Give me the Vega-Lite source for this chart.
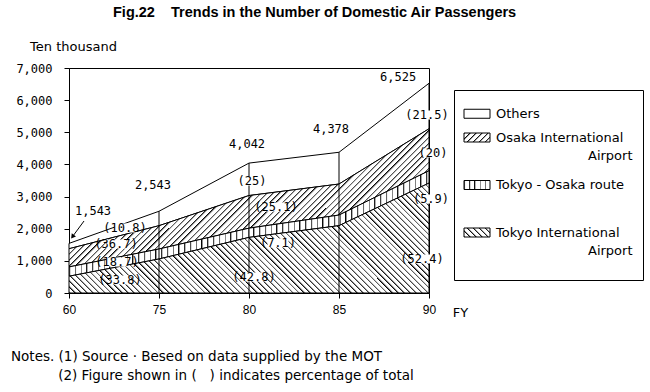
{
"$schema": "https://vega.github.io/schema/vega-lite/v6.json",
"padding": {"left": 10, "top": 5, "right": 5, "bottom": 5},
"background": "white",
"title": {"text": "Fig.22\u00a0\u00a0\u00a0 Trends in the Number of Domestic Air Passengers", "anchor": "start", "frame": "group", "dx": 44, "offset": 19, "font": "Liberation Sans", "fontSize": 14.5, "fontWeight": "bold", "color": "black"},
"bounds": "flush",
"spacing": 25,
"datasets": {
"pax": [
{"fy": "60", "series": "Tokyo International Airport", "value": 522},
{"fy": "60", "series": "Tokyo - Osaka route", "value": 289},
{"fy": "60", "series": "Osaka International Airport", "value": 566},
{"fy": "60", "series": "Others", "value": 166},
{"fy": "75", "series": "Tokyo International Airport", "value": 1058},
{"fy": "75", "series": "Tokyo - Osaka route", "value": 311},
{"fy": "75", "series": "Osaka International Airport", "value": 725},
{"fy": "75", "series": "Others", "value": 449},
{"fy": "80", "series": "Tokyo International Airport", "value": 1730},
{"fy": "80", "series": "Tokyo - Osaka route", "value": 287},
{"fy": "80", "series": "Osaka International Airport", "value": 1015},
{"fy": "80", "series": "Others", "value": 1010},
{"fy": "85", "series": "Tokyo International Airport", "value": 2095},
{"fy": "85", "series": "Tokyo - Osaka route", "value": 330},
{"fy": "85", "series": "Osaka International Airport", "value": 965},
{"fy": "85", "series": "Others", "value": 988},
{"fy": "90", "series": "Tokyo International Airport", "value": 3419},
{"fy": "90", "series": "Tokyo - Osaka route", "value": 385},
{"fy": "90", "series": "Osaka International Airport", "value": 1305},
{"fy": "90", "series": "Others", "value": 1416}
],
"totals": [{"fy": "75", "total": 2543}, {"fy": "80", "total": 4042}, {"fy": "85", "total": 4378}],
"pct": [
{"slot": 0.622, "val": 2022, "label": "(10.8)"},
{"slot": 0.522, "val": 1524, "label": "(36.7)"},
{"slot": 0.533, "val": 964, "label": "(18.7)"},
{"slot": 0.567, "val": 404, "label": "(33.8)"},
{"slot": 2.033, "val": 3484, "label": "(25)"},
{"slot": 2.3, "val": 2676, "label": "(25.1)"},
{"slot": 2.322, "val": 1556, "label": "(7.1)"},
{"slot": 2.056, "val": 498, "label": "(42.8)"},
{"slot": 3.978, "val": 5538, "label": "(21.5)"},
{"slot": 4.044, "val": 4356, "label": "(20)"},
{"slot": 4.022, "val": 2924, "label": "(5.9)"},
{"slot": 3.922, "val": 1058, "label": "(52.4)"}
],
"tlab": [
{"slot": 0.267, "val": 2551, "label": "1,543"},
{"slot": 0.933, "val": 3360, "label": "2,543"},
{"slot": 1.978, "val": 4636, "label": "4,042"},
{"slot": 2.911, "val": 5102, "label": "4,378"},
{"slot": 3.656, "val": 6720, "label": "6,525"}
],
"arrow": [{"slot": 0.167, "val": 2240, "slot2": 0.044, "val2": 1773}],
"arrowhead": [{"slot": 0.044, "val": 1773}],
"legend": [
{"series": "Others", "label": "Others", "sub": ""},
{"series": "Osaka International Airport", "label": "Osaka International", "sub": "Airport"},
{"series": "Tokyo - Osaka route", "label": "Tokyo - Osaka route", "sub": ""},
{"series": "Tokyo International Airport", "label": "Tokyo International", "sub": "Airport"}
]
},
"hconcat": [
{
"width": 360,
"height": 225,
"title": {"text": ["Notes. (1) Source \u00b7 Besed on data supplied by the MOT", "\u200b\u00a0\u00a0\u00a0\u00a0\u00a0\u00a0\u00a0\u00a0\u00a0\u00a0\u00a0(2) Figure shown in (\u00a0\u00a0\u00a0) indicates percentage of total"], "orient": "bottom", "anchor": "start", "frame": "group", "dx": -58, "offset": 31, "font": "DejaVu Sans", "fontSize": 13.5, "fontWeight": "normal", "lineHeight": 19, "color": "black"},
"encoding": {
"x": {"field": "slot", "type": "quantitative", "title": "FY", "scale": {"domain": [0, 4], "nice": false, "zero": false},
"axis": {"values": [0, 1, 2, 3, 4], "labelExpr": "['60','75','80','85','90'][datum.value]", "title": "FY", "titleX": 391, "titleY": 19, "titleAlign": "center", "titleBaseline": "middle", "titleFont": "DejaVu Sans", "titleFontSize": 13, "titleFontWeight": "normal", "labelFont": "Liberation Sans", "labelFontSize": 12, "labelPadding": 6, "tickSize": 5, "labelFlush": false, "labelOverlap": false, "grid": false}}
},
"layer": [
{
"data": {"name": "pax"},
"transform": [
{"calculate": "indexof(['60','75','80','85','90'], datum.fy)", "as": "slot"},
{"calculate": "indexof(['Tokyo International Airport','Tokyo - Osaka route','Osaka International Airport','Others'], datum.series)", "as": "rank"},
{"stack": "value", "groupby": ["slot"], "sort": [{"field": "rank", "order": "ascending"}], "as": ["v0", "v1"]}
],
"layer": [
{"transform": [{"filter": "datum.series === 'Others'"}],
"mark": {"type": "area", "fill": "white", "stroke": "black", "strokeWidth": 1, "opacity": 1},
"encoding": {"y": {"field": "v1", "type": "quantitative", "title": "Ten thousand", "scale": {"domain": [0, 7000], "nice": false},
"axis": {"values": [0, 1000, 2000, 3000, 4000, 5000, 6000, 7000], "tickCount": 8, "labelOverlap": false, "format": ",d", "title": "Ten thousand"}},
"y2": {"field": "v0"}}},
{"transform": [{"filter": "datum.series === 'Osaka International Airport'"}],
"mark": {"type": "area", "stroke": "black", "strokeWidth": 1, "opacity": 1, "fill": {"gradient": "linear", "x1": 0, "y1": 0, "x2": 1.206, "y2": 0.463, "stops": [
{"offset":0,"color":"#000"},{"offset":0.005,"color":"#fff"},{"offset":0.0125,"color":"#fff"},
{"offset":0.0125,"color":"#000"},{"offset":0.0175,"color":"#fff"},{"offset":0.025,"color":"#fff"},
{"offset":0.025,"color":"#000"},{"offset":0.03,"color":"#fff"},{"offset":0.0375,"color":"#fff"},
{"offset":0.0375,"color":"#000"},{"offset":0.0425,"color":"#fff"},{"offset":0.05,"color":"#fff"},
{"offset":0.05,"color":"#000"},{"offset":0.055,"color":"#fff"},{"offset":0.0625,"color":"#fff"},
{"offset":0.0625,"color":"#000"},{"offset":0.0675,"color":"#fff"},{"offset":0.075,"color":"#fff"},
{"offset":0.075,"color":"#000"},{"offset":0.08,"color":"#fff"},{"offset":0.0875,"color":"#fff"},
{"offset":0.0875,"color":"#000"},{"offset":0.0925,"color":"#fff"},{"offset":0.1,"color":"#fff"},
{"offset":0.1,"color":"#000"},{"offset":0.105,"color":"#fff"},{"offset":0.1125,"color":"#fff"},
{"offset":0.1125,"color":"#000"},{"offset":0.1175,"color":"#fff"},{"offset":0.125,"color":"#fff"},
{"offset":0.125,"color":"#000"},{"offset":0.13,"color":"#fff"},{"offset":0.1375,"color":"#fff"},
{"offset":0.1375,"color":"#000"},{"offset":0.1425,"color":"#fff"},{"offset":0.15,"color":"#fff"},
{"offset":0.15,"color":"#000"},{"offset":0.155,"color":"#fff"},{"offset":0.1625,"color":"#fff"},
{"offset":0.1625,"color":"#000"},{"offset":0.1675,"color":"#fff"},{"offset":0.175,"color":"#fff"},
{"offset":0.175,"color":"#000"},{"offset":0.18,"color":"#fff"},{"offset":0.1875,"color":"#fff"},
{"offset":0.1875,"color":"#000"},{"offset":0.1925,"color":"#fff"},{"offset":0.2,"color":"#fff"},
{"offset":0.2,"color":"#000"},{"offset":0.205,"color":"#fff"},{"offset":0.2125,"color":"#fff"},
{"offset":0.2125,"color":"#000"},{"offset":0.2175,"color":"#fff"},{"offset":0.225,"color":"#fff"},
{"offset":0.225,"color":"#000"},{"offset":0.23,"color":"#fff"},{"offset":0.2375,"color":"#fff"},
{"offset":0.2375,"color":"#000"},{"offset":0.2425,"color":"#fff"},{"offset":0.25,"color":"#fff"},
{"offset":0.25,"color":"#000"},{"offset":0.255,"color":"#fff"},{"offset":0.2625,"color":"#fff"},
{"offset":0.2625,"color":"#000"},{"offset":0.2675,"color":"#fff"},{"offset":0.275,"color":"#fff"},
{"offset":0.275,"color":"#000"},{"offset":0.28,"color":"#fff"},{"offset":0.2875,"color":"#fff"},
{"offset":0.2875,"color":"#000"},{"offset":0.2925,"color":"#fff"},{"offset":0.3,"color":"#fff"},
{"offset":0.3,"color":"#000"},{"offset":0.305,"color":"#fff"},{"offset":0.3125,"color":"#fff"},
{"offset":0.3125,"color":"#000"},{"offset":0.3175,"color":"#fff"},{"offset":0.325,"color":"#fff"},
{"offset":0.325,"color":"#000"},{"offset":0.33,"color":"#fff"},{"offset":0.3375,"color":"#fff"},
{"offset":0.3375,"color":"#000"},{"offset":0.3425,"color":"#fff"},{"offset":0.35,"color":"#fff"},
{"offset":0.35,"color":"#000"},{"offset":0.355,"color":"#fff"},{"offset":0.3625,"color":"#fff"},
{"offset":0.3625,"color":"#000"},{"offset":0.3675,"color":"#fff"},{"offset":0.375,"color":"#fff"},
{"offset":0.375,"color":"#000"},{"offset":0.38,"color":"#fff"},{"offset":0.3875,"color":"#fff"},
{"offset":0.3875,"color":"#000"},{"offset":0.3925,"color":"#fff"},{"offset":0.4,"color":"#fff"},
{"offset":0.4,"color":"#000"},{"offset":0.405,"color":"#fff"},{"offset":0.4125,"color":"#fff"},
{"offset":0.4125,"color":"#000"},{"offset":0.4175,"color":"#fff"},{"offset":0.425,"color":"#fff"},
{"offset":0.425,"color":"#000"},{"offset":0.43,"color":"#fff"},{"offset":0.4375,"color":"#fff"},
{"offset":0.4375,"color":"#000"},{"offset":0.4425,"color":"#fff"},{"offset":0.45,"color":"#fff"},
{"offset":0.45,"color":"#000"},{"offset":0.455,"color":"#fff"},{"offset":0.4625,"color":"#fff"},
{"offset":0.4625,"color":"#000"},{"offset":0.4675,"color":"#fff"},{"offset":0.475,"color":"#fff"},
{"offset":0.475,"color":"#000"},{"offset":0.48,"color":"#fff"},{"offset":0.4875,"color":"#fff"},
{"offset":0.4875,"color":"#000"},{"offset":0.4925,"color":"#fff"},{"offset":0.5,"color":"#fff"},
{"offset":0.5,"color":"#000"},{"offset":0.505,"color":"#fff"},{"offset":0.5125,"color":"#fff"},
{"offset":0.5125,"color":"#000"},{"offset":0.5175,"color":"#fff"},{"offset":0.525,"color":"#fff"},
{"offset":0.525,"color":"#000"},{"offset":0.53,"color":"#fff"},{"offset":0.5375,"color":"#fff"},
{"offset":0.5375,"color":"#000"},{"offset":0.5425,"color":"#fff"},{"offset":0.55,"color":"#fff"},
{"offset":0.55,"color":"#000"},{"offset":0.555,"color":"#fff"},{"offset":0.5625,"color":"#fff"},
{"offset":0.5625,"color":"#000"},{"offset":0.5675,"color":"#fff"},{"offset":0.575,"color":"#fff"},
{"offset":0.575,"color":"#000"},{"offset":0.58,"color":"#fff"},{"offset":0.5875,"color":"#fff"},
{"offset":0.5875,"color":"#000"},{"offset":0.5925,"color":"#fff"},{"offset":0.6,"color":"#fff"},
{"offset":0.6,"color":"#000"},{"offset":0.605,"color":"#fff"},{"offset":0.6125,"color":"#fff"},
{"offset":0.6125,"color":"#000"},{"offset":0.6175,"color":"#fff"},{"offset":0.625,"color":"#fff"},
{"offset":0.625,"color":"#000"},{"offset":0.63,"color":"#fff"},{"offset":0.6375,"color":"#fff"},
{"offset":0.6375,"color":"#000"},{"offset":0.6425,"color":"#fff"},{"offset":0.65,"color":"#fff"},
{"offset":0.65,"color":"#000"},{"offset":0.655,"color":"#fff"},{"offset":0.6625,"color":"#fff"},
{"offset":0.6625,"color":"#000"},{"offset":0.6675,"color":"#fff"},{"offset":0.675,"color":"#fff"},
{"offset":0.675,"color":"#000"},{"offset":0.68,"color":"#fff"},{"offset":0.6875,"color":"#fff"},
{"offset":0.6875,"color":"#000"},{"offset":0.6925,"color":"#fff"},{"offset":0.7,"color":"#fff"},
{"offset":0.7,"color":"#000"},{"offset":0.705,"color":"#fff"},{"offset":0.7125,"color":"#fff"},
{"offset":0.7125,"color":"#000"},{"offset":0.7175,"color":"#fff"},{"offset":0.725,"color":"#fff"},
{"offset":0.725,"color":"#000"},{"offset":0.73,"color":"#fff"},{"offset":0.7375,"color":"#fff"},
{"offset":0.7375,"color":"#000"},{"offset":0.7425,"color":"#fff"},{"offset":0.75,"color":"#fff"},
{"offset":0.75,"color":"#000"},{"offset":0.755,"color":"#fff"},{"offset":0.7625,"color":"#fff"},
{"offset":0.7625,"color":"#000"},{"offset":0.7675,"color":"#fff"},{"offset":0.775,"color":"#fff"},
{"offset":0.775,"color":"#000"},{"offset":0.78,"color":"#fff"},{"offset":0.7875,"color":"#fff"},
{"offset":0.7875,"color":"#000"},{"offset":0.7925,"color":"#fff"},{"offset":0.8,"color":"#fff"},
{"offset":0.8,"color":"#000"},{"offset":0.805,"color":"#fff"},{"offset":0.8125,"color":"#fff"},
{"offset":0.8125,"color":"#000"},{"offset":0.8175,"color":"#fff"},{"offset":0.825,"color":"#fff"},
{"offset":0.825,"color":"#000"},{"offset":0.83,"color":"#fff"},{"offset":0.8375,"color":"#fff"},
{"offset":0.8375,"color":"#000"},{"offset":0.8425,"color":"#fff"},{"offset":0.85,"color":"#fff"},
{"offset":0.85,"color":"#000"},{"offset":0.855,"color":"#fff"},{"offset":0.8625,"color":"#fff"},
{"offset":0.8625,"color":"#000"},{"offset":0.8675,"color":"#fff"},{"offset":0.875,"color":"#fff"},
{"offset":0.875,"color":"#000"},{"offset":0.88,"color":"#fff"},{"offset":0.8875,"color":"#fff"},
{"offset":0.8875,"color":"#000"},{"offset":0.8925,"color":"#fff"},{"offset":0.9,"color":"#fff"},
{"offset":0.9,"color":"#000"},{"offset":0.905,"color":"#fff"},{"offset":0.9125,"color":"#fff"},
{"offset":0.9125,"color":"#000"},{"offset":0.9175,"color":"#fff"},{"offset":0.925,"color":"#fff"},
{"offset":0.925,"color":"#000"},{"offset":0.93,"color":"#fff"},{"offset":0.9375,"color":"#fff"},
{"offset":0.9375,"color":"#000"},{"offset":0.9425,"color":"#fff"},{"offset":0.95,"color":"#fff"},
{"offset":0.95,"color":"#000"},{"offset":0.955,"color":"#fff"},{"offset":0.9625,"color":"#fff"},
{"offset":0.9625,"color":"#000"},{"offset":0.9675,"color":"#fff"},{"offset":0.975,"color":"#fff"},
{"offset":0.975,"color":"#000"},{"offset":0.98,"color":"#fff"},{"offset":0.9875,"color":"#fff"},
{"offset":0.9875,"color":"#000"},{"offset":0.9925,"color":"#fff"},{"offset":1,"color":"#fff"}
]}},
"encoding": {"y": {"field": "v1", "type": "quantitative", "title": "Ten thousand", "scale": {"domain": [0, 7000], "nice": false}, "axis": {"values": [0, 1000, 2000, 3000, 4000, 5000, 6000, 7000], "tickCount": 8, "labelOverlap": false, "format": ",d", "title": "Ten thousand"}}, "y2": {"field": "v0"}}},
{"transform": [{"filter": "datum.series === 'Tokyo - Osaka route'"}],
"mark": {"type": "area", "stroke": "black", "strokeWidth": 1, "opacity": 1, "fill": {"gradient": "linear", "x1": 0, "y1": 0, "x2": 1, "y2": 0, "stops": [
{"offset":0,"color":"#000"},{"offset":0.005,"color":"#fff"},{"offset":0.016,"color":"#fff"},
{"offset":0.016,"color":"#000"},{"offset":0.021,"color":"#fff"},{"offset":0.032,"color":"#fff"},
{"offset":0.032,"color":"#000"},{"offset":0.037,"color":"#fff"},{"offset":0.048,"color":"#fff"},
{"offset":0.048,"color":"#000"},{"offset":0.053,"color":"#fff"},{"offset":0.064,"color":"#fff"},
{"offset":0.064,"color":"#000"},{"offset":0.069,"color":"#fff"},{"offset":0.08,"color":"#fff"},
{"offset":0.08,"color":"#000"},{"offset":0.085,"color":"#fff"},{"offset":0.096,"color":"#fff"},
{"offset":0.096,"color":"#000"},{"offset":0.101,"color":"#fff"},{"offset":0.112,"color":"#fff"},
{"offset":0.112,"color":"#000"},{"offset":0.117,"color":"#fff"},{"offset":0.128,"color":"#fff"},
{"offset":0.128,"color":"#000"},{"offset":0.133,"color":"#fff"},{"offset":0.144,"color":"#fff"},
{"offset":0.144,"color":"#000"},{"offset":0.149,"color":"#fff"},{"offset":0.16,"color":"#fff"},
{"offset":0.16,"color":"#000"},{"offset":0.165,"color":"#fff"},{"offset":0.176,"color":"#fff"},
{"offset":0.176,"color":"#000"},{"offset":0.181,"color":"#fff"},{"offset":0.192,"color":"#fff"},
{"offset":0.192,"color":"#000"},{"offset":0.197,"color":"#fff"},{"offset":0.208,"color":"#fff"},
{"offset":0.208,"color":"#000"},{"offset":0.213,"color":"#fff"},{"offset":0.224,"color":"#fff"},
{"offset":0.224,"color":"#000"},{"offset":0.229,"color":"#fff"},{"offset":0.24,"color":"#fff"},
{"offset":0.24,"color":"#000"},{"offset":0.245,"color":"#fff"},{"offset":0.256,"color":"#fff"},
{"offset":0.256,"color":"#000"},{"offset":0.261,"color":"#fff"},{"offset":0.272,"color":"#fff"},
{"offset":0.272,"color":"#000"},{"offset":0.277,"color":"#fff"},{"offset":0.288,"color":"#fff"},
{"offset":0.288,"color":"#000"},{"offset":0.293,"color":"#fff"},{"offset":0.304,"color":"#fff"},
{"offset":0.304,"color":"#000"},{"offset":0.309,"color":"#fff"},{"offset":0.32,"color":"#fff"},
{"offset":0.32,"color":"#000"},{"offset":0.325,"color":"#fff"},{"offset":0.336,"color":"#fff"},
{"offset":0.336,"color":"#000"},{"offset":0.341,"color":"#fff"},{"offset":0.352,"color":"#fff"},
{"offset":0.352,"color":"#000"},{"offset":0.357,"color":"#fff"},{"offset":0.368,"color":"#fff"},
{"offset":0.368,"color":"#000"},{"offset":0.373,"color":"#fff"},{"offset":0.384,"color":"#fff"},
{"offset":0.384,"color":"#000"},{"offset":0.389,"color":"#fff"},{"offset":0.4,"color":"#fff"},
{"offset":0.4,"color":"#000"},{"offset":0.405,"color":"#fff"},{"offset":0.416,"color":"#fff"},
{"offset":0.416,"color":"#000"},{"offset":0.421,"color":"#fff"},{"offset":0.432,"color":"#fff"},
{"offset":0.432,"color":"#000"},{"offset":0.437,"color":"#fff"},{"offset":0.448,"color":"#fff"},
{"offset":0.448,"color":"#000"},{"offset":0.453,"color":"#fff"},{"offset":0.464,"color":"#fff"},
{"offset":0.464,"color":"#000"},{"offset":0.469,"color":"#fff"},{"offset":0.48,"color":"#fff"},
{"offset":0.48,"color":"#000"},{"offset":0.485,"color":"#fff"},{"offset":0.496,"color":"#fff"},
{"offset":0.496,"color":"#000"},{"offset":0.501,"color":"#fff"},{"offset":0.512,"color":"#fff"},
{"offset":0.512,"color":"#000"},{"offset":0.517,"color":"#fff"},{"offset":0.528,"color":"#fff"},
{"offset":0.528,"color":"#000"},{"offset":0.533,"color":"#fff"},{"offset":0.544,"color":"#fff"},
{"offset":0.544,"color":"#000"},{"offset":0.549,"color":"#fff"},{"offset":0.56,"color":"#fff"},
{"offset":0.56,"color":"#000"},{"offset":0.565,"color":"#fff"},{"offset":0.576,"color":"#fff"},
{"offset":0.576,"color":"#000"},{"offset":0.581,"color":"#fff"},{"offset":0.592,"color":"#fff"},
{"offset":0.592,"color":"#000"},{"offset":0.597,"color":"#fff"},{"offset":0.608,"color":"#fff"},
{"offset":0.608,"color":"#000"},{"offset":0.613,"color":"#fff"},{"offset":0.624,"color":"#fff"},
{"offset":0.624,"color":"#000"},{"offset":0.629,"color":"#fff"},{"offset":0.64,"color":"#fff"},
{"offset":0.64,"color":"#000"},{"offset":0.645,"color":"#fff"},{"offset":0.656,"color":"#fff"},
{"offset":0.656,"color":"#000"},{"offset":0.661,"color":"#fff"},{"offset":0.672,"color":"#fff"},
{"offset":0.672,"color":"#000"},{"offset":0.677,"color":"#fff"},{"offset":0.688,"color":"#fff"},
{"offset":0.688,"color":"#000"},{"offset":0.693,"color":"#fff"},{"offset":0.704,"color":"#fff"},
{"offset":0.704,"color":"#000"},{"offset":0.709,"color":"#fff"},{"offset":0.72,"color":"#fff"},
{"offset":0.72,"color":"#000"},{"offset":0.725,"color":"#fff"},{"offset":0.736,"color":"#fff"},
{"offset":0.736,"color":"#000"},{"offset":0.741,"color":"#fff"},{"offset":0.752,"color":"#fff"},
{"offset":0.752,"color":"#000"},{"offset":0.757,"color":"#fff"},{"offset":0.768,"color":"#fff"},
{"offset":0.768,"color":"#000"},{"offset":0.773,"color":"#fff"},{"offset":0.784,"color":"#fff"},
{"offset":0.784,"color":"#000"},{"offset":0.789,"color":"#fff"},{"offset":0.8,"color":"#fff"},
{"offset":0.8,"color":"#000"},{"offset":0.805,"color":"#fff"},{"offset":0.816,"color":"#fff"},
{"offset":0.816,"color":"#000"},{"offset":0.821,"color":"#fff"},{"offset":0.832,"color":"#fff"},
{"offset":0.832,"color":"#000"},{"offset":0.837,"color":"#fff"},{"offset":0.848,"color":"#fff"},
{"offset":0.848,"color":"#000"},{"offset":0.853,"color":"#fff"},{"offset":0.864,"color":"#fff"},
{"offset":0.864,"color":"#000"},{"offset":0.869,"color":"#fff"},{"offset":0.88,"color":"#fff"},
{"offset":0.88,"color":"#000"},{"offset":0.885,"color":"#fff"},{"offset":0.896,"color":"#fff"},
{"offset":0.896,"color":"#000"},{"offset":0.901,"color":"#fff"},{"offset":0.912,"color":"#fff"},
{"offset":0.912,"color":"#000"},{"offset":0.917,"color":"#fff"},{"offset":0.928,"color":"#fff"},
{"offset":0.928,"color":"#000"},{"offset":0.933,"color":"#fff"},{"offset":0.944,"color":"#fff"},
{"offset":0.944,"color":"#000"},{"offset":0.949,"color":"#fff"},{"offset":0.96,"color":"#fff"},
{"offset":0.96,"color":"#000"},{"offset":0.965,"color":"#fff"},{"offset":0.976,"color":"#fff"},
{"offset":0.976,"color":"#000"},{"offset":0.981,"color":"#fff"},{"offset":0.992,"color":"#fff"},
{"offset":0.992,"color":"#000"},{"offset":0.997,"color":"#fff"},{"offset":1,"color":"#fff"}
]}},
"encoding": {"y": {"field": "v1", "type": "quantitative", "title": "Ten thousand", "scale": {"domain": [0, 7000], "nice": false}, "axis": {"values": [0, 1000, 2000, 3000, 4000, 5000, 6000, 7000], "tickCount": 8, "labelOverlap": false, "format": ",d", "title": "Ten thousand"}}, "y2": {"field": "v0"}}},
{"transform": [{"filter": "datum.series === 'Tokyo International Airport'"}],
"mark": {"type": "area", "stroke": "black", "strokeWidth": 1, "opacity": 1, "fill": {"gradient": "linear", "x1": 0, "y1": 1, "x2": 1.194, "y2": 0.636, "stops": [
{"offset":0,"color":"#000"},{"offset":0.005,"color":"#fff"},{"offset":0.0125,"color":"#fff"},
{"offset":0.0125,"color":"#000"},{"offset":0.0175,"color":"#fff"},{"offset":0.025,"color":"#fff"},
{"offset":0.025,"color":"#000"},{"offset":0.03,"color":"#fff"},{"offset":0.0375,"color":"#fff"},
{"offset":0.0375,"color":"#000"},{"offset":0.0425,"color":"#fff"},{"offset":0.05,"color":"#fff"},
{"offset":0.05,"color":"#000"},{"offset":0.055,"color":"#fff"},{"offset":0.0625,"color":"#fff"},
{"offset":0.0625,"color":"#000"},{"offset":0.0675,"color":"#fff"},{"offset":0.075,"color":"#fff"},
{"offset":0.075,"color":"#000"},{"offset":0.08,"color":"#fff"},{"offset":0.0875,"color":"#fff"},
{"offset":0.0875,"color":"#000"},{"offset":0.0925,"color":"#fff"},{"offset":0.1,"color":"#fff"},
{"offset":0.1,"color":"#000"},{"offset":0.105,"color":"#fff"},{"offset":0.1125,"color":"#fff"},
{"offset":0.1125,"color":"#000"},{"offset":0.1175,"color":"#fff"},{"offset":0.125,"color":"#fff"},
{"offset":0.125,"color":"#000"},{"offset":0.13,"color":"#fff"},{"offset":0.1375,"color":"#fff"},
{"offset":0.1375,"color":"#000"},{"offset":0.1425,"color":"#fff"},{"offset":0.15,"color":"#fff"},
{"offset":0.15,"color":"#000"},{"offset":0.155,"color":"#fff"},{"offset":0.1625,"color":"#fff"},
{"offset":0.1625,"color":"#000"},{"offset":0.1675,"color":"#fff"},{"offset":0.175,"color":"#fff"},
{"offset":0.175,"color":"#000"},{"offset":0.18,"color":"#fff"},{"offset":0.1875,"color":"#fff"},
{"offset":0.1875,"color":"#000"},{"offset":0.1925,"color":"#fff"},{"offset":0.2,"color":"#fff"},
{"offset":0.2,"color":"#000"},{"offset":0.205,"color":"#fff"},{"offset":0.2125,"color":"#fff"},
{"offset":0.2125,"color":"#000"},{"offset":0.2175,"color":"#fff"},{"offset":0.225,"color":"#fff"},
{"offset":0.225,"color":"#000"},{"offset":0.23,"color":"#fff"},{"offset":0.2375,"color":"#fff"},
{"offset":0.2375,"color":"#000"},{"offset":0.2425,"color":"#fff"},{"offset":0.25,"color":"#fff"},
{"offset":0.25,"color":"#000"},{"offset":0.255,"color":"#fff"},{"offset":0.2625,"color":"#fff"},
{"offset":0.2625,"color":"#000"},{"offset":0.2675,"color":"#fff"},{"offset":0.275,"color":"#fff"},
{"offset":0.275,"color":"#000"},{"offset":0.28,"color":"#fff"},{"offset":0.2875,"color":"#fff"},
{"offset":0.2875,"color":"#000"},{"offset":0.2925,"color":"#fff"},{"offset":0.3,"color":"#fff"},
{"offset":0.3,"color":"#000"},{"offset":0.305,"color":"#fff"},{"offset":0.3125,"color":"#fff"},
{"offset":0.3125,"color":"#000"},{"offset":0.3175,"color":"#fff"},{"offset":0.325,"color":"#fff"},
{"offset":0.325,"color":"#000"},{"offset":0.33,"color":"#fff"},{"offset":0.3375,"color":"#fff"},
{"offset":0.3375,"color":"#000"},{"offset":0.3425,"color":"#fff"},{"offset":0.35,"color":"#fff"},
{"offset":0.35,"color":"#000"},{"offset":0.355,"color":"#fff"},{"offset":0.3625,"color":"#fff"},
{"offset":0.3625,"color":"#000"},{"offset":0.3675,"color":"#fff"},{"offset":0.375,"color":"#fff"},
{"offset":0.375,"color":"#000"},{"offset":0.38,"color":"#fff"},{"offset":0.3875,"color":"#fff"},
{"offset":0.3875,"color":"#000"},{"offset":0.3925,"color":"#fff"},{"offset":0.4,"color":"#fff"},
{"offset":0.4,"color":"#000"},{"offset":0.405,"color":"#fff"},{"offset":0.4125,"color":"#fff"},
{"offset":0.4125,"color":"#000"},{"offset":0.4175,"color":"#fff"},{"offset":0.425,"color":"#fff"},
{"offset":0.425,"color":"#000"},{"offset":0.43,"color":"#fff"},{"offset":0.4375,"color":"#fff"},
{"offset":0.4375,"color":"#000"},{"offset":0.4425,"color":"#fff"},{"offset":0.45,"color":"#fff"},
{"offset":0.45,"color":"#000"},{"offset":0.455,"color":"#fff"},{"offset":0.4625,"color":"#fff"},
{"offset":0.4625,"color":"#000"},{"offset":0.4675,"color":"#fff"},{"offset":0.475,"color":"#fff"},
{"offset":0.475,"color":"#000"},{"offset":0.48,"color":"#fff"},{"offset":0.4875,"color":"#fff"},
{"offset":0.4875,"color":"#000"},{"offset":0.4925,"color":"#fff"},{"offset":0.5,"color":"#fff"},
{"offset":0.5,"color":"#000"},{"offset":0.505,"color":"#fff"},{"offset":0.5125,"color":"#fff"},
{"offset":0.5125,"color":"#000"},{"offset":0.5175,"color":"#fff"},{"offset":0.525,"color":"#fff"},
{"offset":0.525,"color":"#000"},{"offset":0.53,"color":"#fff"},{"offset":0.5375,"color":"#fff"},
{"offset":0.5375,"color":"#000"},{"offset":0.5425,"color":"#fff"},{"offset":0.55,"color":"#fff"},
{"offset":0.55,"color":"#000"},{"offset":0.555,"color":"#fff"},{"offset":0.5625,"color":"#fff"},
{"offset":0.5625,"color":"#000"},{"offset":0.5675,"color":"#fff"},{"offset":0.575,"color":"#fff"},
{"offset":0.575,"color":"#000"},{"offset":0.58,"color":"#fff"},{"offset":0.5875,"color":"#fff"},
{"offset":0.5875,"color":"#000"},{"offset":0.5925,"color":"#fff"},{"offset":0.6,"color":"#fff"},
{"offset":0.6,"color":"#000"},{"offset":0.605,"color":"#fff"},{"offset":0.6125,"color":"#fff"},
{"offset":0.6125,"color":"#000"},{"offset":0.6175,"color":"#fff"},{"offset":0.625,"color":"#fff"},
{"offset":0.625,"color":"#000"},{"offset":0.63,"color":"#fff"},{"offset":0.6375,"color":"#fff"},
{"offset":0.6375,"color":"#000"},{"offset":0.6425,"color":"#fff"},{"offset":0.65,"color":"#fff"},
{"offset":0.65,"color":"#000"},{"offset":0.655,"color":"#fff"},{"offset":0.6625,"color":"#fff"},
{"offset":0.6625,"color":"#000"},{"offset":0.6675,"color":"#fff"},{"offset":0.675,"color":"#fff"},
{"offset":0.675,"color":"#000"},{"offset":0.68,"color":"#fff"},{"offset":0.6875,"color":"#fff"},
{"offset":0.6875,"color":"#000"},{"offset":0.6925,"color":"#fff"},{"offset":0.7,"color":"#fff"},
{"offset":0.7,"color":"#000"},{"offset":0.705,"color":"#fff"},{"offset":0.7125,"color":"#fff"},
{"offset":0.7125,"color":"#000"},{"offset":0.7175,"color":"#fff"},{"offset":0.725,"color":"#fff"},
{"offset":0.725,"color":"#000"},{"offset":0.73,"color":"#fff"},{"offset":0.7375,"color":"#fff"},
{"offset":0.7375,"color":"#000"},{"offset":0.7425,"color":"#fff"},{"offset":0.75,"color":"#fff"},
{"offset":0.75,"color":"#000"},{"offset":0.755,"color":"#fff"},{"offset":0.7625,"color":"#fff"},
{"offset":0.7625,"color":"#000"},{"offset":0.7675,"color":"#fff"},{"offset":0.775,"color":"#fff"},
{"offset":0.775,"color":"#000"},{"offset":0.78,"color":"#fff"},{"offset":0.7875,"color":"#fff"},
{"offset":0.7875,"color":"#000"},{"offset":0.7925,"color":"#fff"},{"offset":0.8,"color":"#fff"},
{"offset":0.8,"color":"#000"},{"offset":0.805,"color":"#fff"},{"offset":0.8125,"color":"#fff"},
{"offset":0.8125,"color":"#000"},{"offset":0.8175,"color":"#fff"},{"offset":0.825,"color":"#fff"},
{"offset":0.825,"color":"#000"},{"offset":0.83,"color":"#fff"},{"offset":0.8375,"color":"#fff"},
{"offset":0.8375,"color":"#000"},{"offset":0.8425,"color":"#fff"},{"offset":0.85,"color":"#fff"},
{"offset":0.85,"color":"#000"},{"offset":0.855,"color":"#fff"},{"offset":0.8625,"color":"#fff"},
{"offset":0.8625,"color":"#000"},{"offset":0.8675,"color":"#fff"},{"offset":0.875,"color":"#fff"},
{"offset":0.875,"color":"#000"},{"offset":0.88,"color":"#fff"},{"offset":0.8875,"color":"#fff"},
{"offset":0.8875,"color":"#000"},{"offset":0.8925,"color":"#fff"},{"offset":0.9,"color":"#fff"},
{"offset":0.9,"color":"#000"},{"offset":0.905,"color":"#fff"},{"offset":0.9125,"color":"#fff"},
{"offset":0.9125,"color":"#000"},{"offset":0.9175,"color":"#fff"},{"offset":0.925,"color":"#fff"},
{"offset":0.925,"color":"#000"},{"offset":0.93,"color":"#fff"},{"offset":0.9375,"color":"#fff"},
{"offset":0.9375,"color":"#000"},{"offset":0.9425,"color":"#fff"},{"offset":0.95,"color":"#fff"},
{"offset":0.95,"color":"#000"},{"offset":0.955,"color":"#fff"},{"offset":0.9625,"color":"#fff"},
{"offset":0.9625,"color":"#000"},{"offset":0.9675,"color":"#fff"},{"offset":0.975,"color":"#fff"},
{"offset":0.975,"color":"#000"},{"offset":0.98,"color":"#fff"},{"offset":0.9875,"color":"#fff"},
{"offset":0.9875,"color":"#000"},{"offset":0.9925,"color":"#fff"},{"offset":1,"color":"#fff"}
]}},
"encoding": {"y": {"field": "v1", "type": "quantitative", "title": "Ten thousand", "scale": {"domain": [0, 7000], "nice": false}, "axis": {"values": [0, 1000, 2000, 3000, 4000, 5000, 6000, 7000], "tickCount": 8, "labelOverlap": false, "format": ",d", "title": "Ten thousand"}}, "y2": {"field": "v0"}}}
]
},
{
"data": {"name": "totals"},
"transform": [{"calculate": "indexof(['60','75','80','85','90'], datum.fy)", "as": "slot"}],
"mark": {"type": "rule", "color": "black", "strokeWidth": 1},
"encoding": {"y": {"field": "total", "type": "quantitative", "title": "Ten thousand", "scale": {"domain": [0, 7000], "nice": false}, "axis": {"values": [0, 1000, 2000, 3000, 4000, 5000, 6000, 7000], "tickCount": 8, "labelOverlap": false, "format": ",d", "title": "Ten thousand"}}, "y2": {"datum": 0}}
},
{
"data": {"name": "arrow"},
"mark": {"type": "rule", "color": "black", "strokeWidth": 1},
"encoding": {"x2": {"field": "slot2"}, "y": {"field": "val", "type": "quantitative", "title": "Ten thousand", "scale": {"domain": [0, 7000], "nice": false}, "axis": {"values": [0, 1000, 2000, 3000, 4000, 5000, 6000, 7000], "tickCount": 8, "labelOverlap": false, "format": ",d", "title": "Ten thousand"}}, "y2": {"field": "val2"}}
},
{
"data": {"name": "arrowhead"},
"mark": {"type": "point", "shape": "triangle", "angle": 217, "size": 28, "filled": true, "fill": "black", "stroke": null, "opacity": 1},
"encoding": {"y": {"field": "val", "type": "quantitative", "title": "Ten thousand", "scale": {"domain": [0, 7000], "nice": false}, "axis": {"values": [0, 1000, 2000, 3000, 4000, 5000, 6000, 7000], "tickCount": 8, "labelOverlap": false, "format": ",d", "title": "Ten thousand"}}}
},
{
"data": {"name": "pct"},
"mark": {"type": "point", "shape": "M-2.1,-0.9H2.1V0.9H-2.1Z", "size": 100, "filled": true, "fill": "white", "stroke": null, "opacity": 1},
"encoding": {"y": {"field": "val", "type": "quantitative", "title": "Ten thousand", "scale": {"domain": [0, 7000], "nice": false}, "axis": {"values": [0, 1000, 2000, 3000, 4000, 5000, 6000, 7000], "tickCount": 8, "labelOverlap": false, "format": ",d", "title": "Ten thousand"}}}
},
{
"data": {"name": "pct"},
"mark": {"type": "text", "font": "DejaVu Sans Mono", "fontSize": 12, "align": "center", "baseline": "middle", "color": "black"},
"encoding": {"y": {"field": "val", "type": "quantitative", "title": "Ten thousand", "scale": {"domain": [0, 7000], "nice": false}, "axis": {"values": [0, 1000, 2000, 3000, 4000, 5000, 6000, 7000], "tickCount": 8, "labelOverlap": false, "format": ",d", "title": "Ten thousand"}}, "text": {"field": "label"}}
},
{
"data": {"name": "tlab"},
"mark": {"type": "text", "font": "DejaVu Sans Mono", "fontSize": 12, "align": "center", "baseline": "middle", "color": "black"},
"encoding": {"y": {"field": "val", "type": "quantitative", "title": "Ten thousand", "scale": {"domain": [0, 7000], "nice": false}, "axis": {"values": [0, 1000, 2000, 3000, 4000, 5000, 6000, 7000], "tickCount": 8, "labelOverlap": false, "format": ",d", "title": "Ten thousand"}}, "text": {"field": "label"}}
}
]
},
{
"spacing": 17,
"vconcat": [
{"width": 189, "height": 1, "view": {"stroke": null}, "data": {"values": [{"a": 1}]}, "mark": {"type": "point", "opacity": 0}},
{
"width": 189,
"height": 190,
"data": {"name": "legend"},
"encoding": {"y": {"field": "series", "type": "nominal", "scale": {"type": "point", "domain": ["Others", "Osaka International Airport", "gap1", "Tokyo - Osaka route", "gap2", "Tokyo International Airport", "gap3"], "padding": 1.0714}, "axis": null}},
"layer": [
{"transform": [{"filter": "datum.series === 'Others'"}], "mark": {"type": "point", "shape": "M-2.6,-0.9H2.6V0.9H-2.6Z", "size": 100, "filled": true, "fill": "white", "stroke": "black", "strokeWidth": 1, "opacity": 1, "xOffset": -71.5}},
{"transform": [{"filter": "datum.series === 'Osaka International Airport'"}], "mark": {"type": "point", "shape": "M-2.6,-0.9H2.6V0.9H-2.6Z", "size": 100, "filled": true, "stroke": "black", "strokeWidth": 1, "opacity": 1, "xOffset": -71.5, "fill": {"gradient": "linear", "x1": 0, "y1": 0, "x2": 1.202, "y2": 0.416, "stops": [
{"offset":0,"color":"#000"},{"offset":0.05,"color":"#fff"},{"offset":0.17,"color":"#fff"},
{"offset":0.17,"color":"#000"},{"offset":0.22,"color":"#fff"},{"offset":0.34,"color":"#fff"},
{"offset":0.34,"color":"#000"},{"offset":0.39,"color":"#fff"},{"offset":0.51,"color":"#fff"},
{"offset":0.51,"color":"#000"},{"offset":0.56,"color":"#fff"},{"offset":0.68,"color":"#fff"},
{"offset":0.68,"color":"#000"},{"offset":0.73,"color":"#fff"},{"offset":0.85,"color":"#fff"},
{"offset":0.85,"color":"#000"},{"offset":0.9,"color":"#fff"},{"offset":1,"color":"#fff"}
]}}},
{"transform": [{"filter": "datum.series === 'Tokyo - Osaka route'"}], "mark": {"type": "point", "shape": "M-2.6,-0.9H2.6V0.9H-2.6Z", "size": 100, "filled": true, "stroke": "black", "strokeWidth": 1, "opacity": 1, "xOffset": -71.5, "fill": {"gradient": "linear", "x1": 0, "y1": 0, "x2": 1, "y2": 0, "stops": [
{"offset":0,"color":"#000"},{"offset":0.06,"color":"#fff"},{"offset":0.2,"color":"#fff"},
{"offset":0.2,"color":"#000"},{"offset":0.26,"color":"#fff"},{"offset":0.4,"color":"#fff"},
{"offset":0.4,"color":"#000"},{"offset":0.46,"color":"#fff"},{"offset":0.6,"color":"#fff"},
{"offset":0.6,"color":"#000"},{"offset":0.66,"color":"#fff"},{"offset":0.8,"color":"#fff"},
{"offset":0.8,"color":"#000"},{"offset":0.86,"color":"#fff"},{"offset":1,"color":"#fff"}
]}}},
{"transform": [{"filter": "datum.series === 'Tokyo International Airport'"}], "mark": {"type": "point", "shape": "M-2.6,-0.9H2.6V0.9H-2.6Z", "size": 100, "filled": true, "stroke": "black", "strokeWidth": 1, "opacity": 1, "xOffset": -71.5, "fill": {"gradient": "linear", "x1": 0, "y1": 1, "x2": 1.202, "y2": 0.584, "stops": [
{"offset":0,"color":"#000"},{"offset":0.05,"color":"#fff"},{"offset":0.17,"color":"#fff"},
{"offset":0.17,"color":"#000"},{"offset":0.22,"color":"#fff"},{"offset":0.34,"color":"#fff"},
{"offset":0.34,"color":"#000"},{"offset":0.39,"color":"#fff"},{"offset":0.51,"color":"#fff"},
{"offset":0.51,"color":"#000"},{"offset":0.56,"color":"#fff"},{"offset":0.68,"color":"#fff"},
{"offset":0.68,"color":"#000"},{"offset":0.73,"color":"#fff"},{"offset":0.85,"color":"#fff"},
{"offset":0.85,"color":"#000"},{"offset":0.9,"color":"#fff"},{"offset":1,"color":"#fff"}
]}}},
{"mark": {"type": "text", "align": "left", "baseline": "middle", "dx": -52.5, "font": "DejaVu Sans", "fontSize": 13, "color": "black"}, "encoding": {"text": {"field": "label"}}},
{"transform": [{"filter": "datum.sub !== ''"}], "mark": {"type": "text", "align": "right", "baseline": "middle", "dx": 84, "dy": 18, "font": "DejaVu Sans", "fontSize": 13, "color": "black"}, "encoding": {"text": {"field": "sub"}}}
]
}
]
}
],
"config": {
"font": "DejaVu Sans",
"view": {"stroke": "black", "strokeWidth": 1, "fill": "white"},
"axis": {"domainColor": "black", "tickColor": "black", "labelColor": "black", "titleColor": "black", "grid": false, "domainWidth": 1, "tickWidth": 1},
"axisY": {"titleAngle": 0, "titleX": 4, "titleY": -22, "titleAlign": "center", "titleBaseline": "middle", "titleFont": "DejaVu Sans", "titleFontSize": 13, "titleFontWeight": "normal", "labelFont": "DejaVu Sans Mono", "labelFontSize": 12, "labelPadding": 12, "tickSize": 5, "tickCount": 8, "labelOverlap": false, "grid": false}
}
}
